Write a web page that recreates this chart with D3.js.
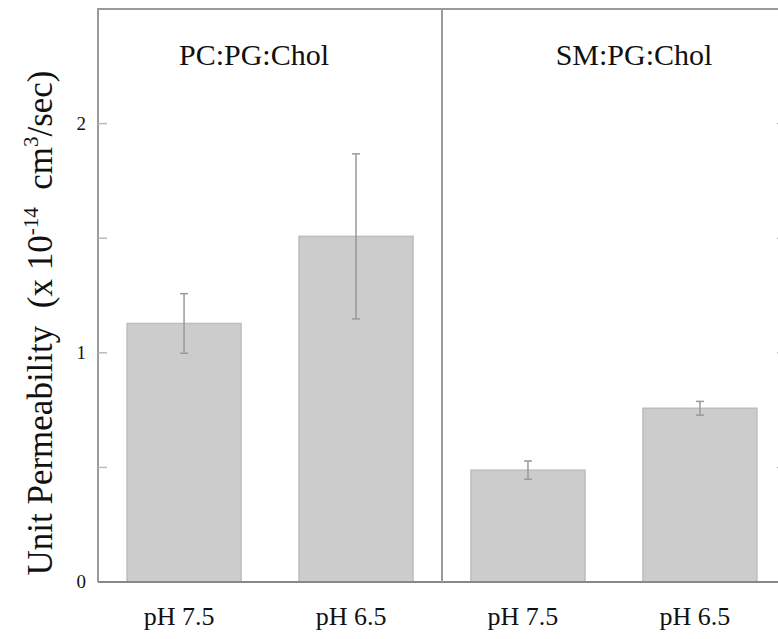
<!DOCTYPE html>
<html>
<head>
<meta charset="utf-8">
<script src="https://cdn.jsdelivr.net/npm/d3@7"></script>
<style>
  body { margin: 0; background: #fff; }
  text { font-family: "Liberation Serif", "Times New Roman", serif; fill: #111; }
</style>
</head>
<body>
<svg id="chart" width="778" height="639"></svg>
<script>
// data
const groups = ["PC:PG:Chol", "SM:PG:Chol"];
const labels = ["pH 7.5", "pH 6.5", "pH 7.5", "pH 6.5"];
const values = [1.128, 1.508, 0.488, 0.758];
const errors = [0.13, 0.36, 0.04, 0.03];
const majorTicks = [0, 1, 2];
const minorTicks = [0.5, 1.5];

const svg = d3.select("#chart");
const plotLeft = 98, plotRight = 786, plotTop = 9, plotBottom = 582;
const axisColor = "#9a9a9a";

const ids = d3.range(values.length);
const x = d3.scaleBand().domain(ids).range([plotLeft, plotRight])
    .paddingInner(0.337).paddingOuter(0.169);
const y = d3.scaleLinear().domain([0, 2.5]).range([plotBottom, plotTop]);

// bars
svg.append("g").selectAll("rect").data(ids).enter().append("rect")
    .attr("x", d => x(d))
    .attr("y", d => y(values[d]))
    .attr("width", x.bandwidth())
    .attr("height", d => plotBottom - y(values[d]))
    .attr("fill", "#cccccc")
    .attr("stroke", "#bdbdbd")
    .attr("stroke-width", 1.5);

// error bars
const eb = svg.append("g").attr("stroke", "#999").attr("stroke-width", 1.5);
ids.forEach(function(i) {
    let cx = x(i) + x.bandwidth() / 2;
    let hi = y(values[i] + errors[i]), lo = y(values[i] - errors[i]);
    eb.append("line").attr("x1", cx).attr("x2", cx).attr("y1", hi).attr("y2", lo);
    eb.append("line").attr("x1", cx - 4).attr("x2", cx + 4).attr("y1", hi).attr("y2", hi);
    eb.append("line").attr("x1", cx - 4).attr("x2", cx + 4).attr("y1", lo).attr("y2", lo);
});

// frame: left axis, right axis, top, bottom, divider
const mid = (x(1) + x.bandwidth() + x(2)) / 2;
const frame = svg.append("g").attr("stroke", axisColor).attr("stroke-width", 2).attr("fill", "none");
frame.append("path").attr("d", `M${plotLeft},${plotBottom} V${plotTop} H${plotRight} V${plotBottom}`);
frame.append("line").attr("x1", plotLeft).attr("x2", plotRight).attr("y1", plotBottom).attr("y2", plotBottom)
    .attr("stroke", "#888");
frame.append("line").attr("x1", mid).attr("x2", mid).attr("y1", plotTop).attr("y2", plotBottom);

// ticks on both sides, pointing inward
const allTicks = majorTicks.concat(minorTicks).filter(t => t > 0);
const tk = svg.append("g").attr("stroke", "#bbb").attr("stroke-width", 1.5);
allTicks.forEach(function(t) {
    tk.append("line").attr("x1", plotLeft).attr("x2", plotLeft + 9).attr("y1", y(t)).attr("y2", y(t));
    tk.append("line").attr("x1", plotRight - 9).attr("x2", plotRight).attr("y1", y(t)).attr("y2", y(t));
});

// tick labels
svg.append("g").selectAll("text").data(majorTicks).enter().append("text")
    .attr("x", 86).attr("y", d => y(d) + 6)
    .attr("text-anchor", "end")
    .style("font-size", "19px")
    .text(d => d);

// category labels
svg.append("g").selectAll("text").data(ids).enter().append("text")
    .attr("x", d => x(d) + x.bandwidth() / 2 - 5)
    .attr("y", 625)
    .attr("text-anchor", "middle")
    .style("font-size", "26px")
    .text(d => labels[d]);

// group titles
const groupCenters = [254, 634];
svg.append("g").selectAll("text").data(groups).enter().append("text")
    .attr("x", (d, i) => groupCenters[i])
    .attr("y", 65)
    .attr("text-anchor", "middle")
    .style("font-size", "30px")
    .text(d => d);

// y axis title with superscripts
const yt = svg.append("text")
    .attr("transform", "translate(52,323) rotate(-90)")
    .attr("text-anchor", "middle")
    .style("font-size", "35px");
yt.append("tspan").text("Unit Permeability\u00a0\u00a0(x 10");
yt.append("tspan").attr("dy", -14).style("font-size", "21px").text("-14");
yt.append("tspan").attr("dy", 14).text("\u00a0\u00a0cm");
yt.append("tspan").attr("dy", -14).style("font-size", "21px").text("3");
yt.append("tspan").attr("dy", 14).text("/sec)");
</script>
</body>
</html>
